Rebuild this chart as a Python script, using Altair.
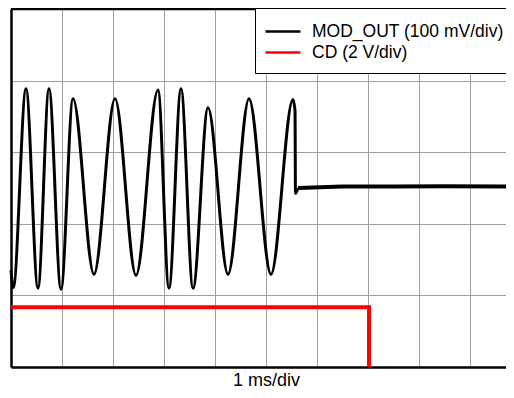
import altair as alt
import pandas as pd

# Series names
series = ["MOD_OUT (100 mV/div)", "CD (2 V/div)"]
colors = ["#000000", "#ff0000"]

# MOD_OUT trace (x in ms, y in divisions), extrema
mod_x = [0.0, 0.045, 0.294, 0.529, 0.745, 0.980, 1.216, 1.627, 2.039, 2.451,
         2.882, 3.098, 3.333, 3.569, 3.863, 4.255, 4.667, 5.098, 5.529, 5.569,
         5.578, 5.627]
mod_y = [2.70, 2.22, 7.77, 2.20, 7.77, 2.17, 7.49, 2.59, 7.49, 2.56,
         7.74, 2.20, 7.77, 2.20, 7.24, 2.59, 7.49, 2.59, 7.47, 7.16,
         4.85, 5.00]

# MOD_OUT flat (settled) part
flat_x = [5.627, 6.5, 7.5, 8.5, 9.863]
flat_y = [5.00, 5.04, 5.04, 5.05, 5.04]

# CD trace
cd_x = [0.0, 7.02, 7.02]
cd_y = [1.67, 1.67, 0.0]

# Grid tick values
x_ticks = list(range(0, 10))
y_ticks = list(range(0, 11))

mod_df = pd.DataFrame({"t": mod_x, "v": mod_y, "s": series[0], "o": range(len(mod_x))})
flat_df = pd.DataFrame({"t": flat_x, "v": flat_y, "s": series[0], "o": range(len(flat_x))})
cd_df = pd.DataFrame({"t": cd_x, "v": cd_y, "s": series[1], "o": range(len(cd_x))})

FONT = "Liberation Sans"
PX_PER_DIV = 51
PLOT_W = 495
X_MAX = PLOT_W / PX_PER_DIV

x_enc = alt.X("t:Q", scale=alt.Scale(domain=[0, X_MAX], nice=False, zero=False),
              axis=alt.Axis(values=x_ticks, labels=False, ticks=False, grid=True,
                            gridColor="#a0a0a0", gridWidth=1, domain=True,
                            domainColor="black", domainWidth=2.5,
                            title="1 ms/div", titleFont=FONT, titleFontSize=18,
                            titleFontWeight="normal", titleColor="black",
                            titleX=255, titleY=18, titleAlign="center",
                            titleBaseline="alphabetic"))
y_enc = alt.Y("v:Q", scale=alt.Scale(domain=[0, 10], nice=False, zero=False),
              axis=alt.Axis(values=y_ticks, labels=False, ticks=False, grid=True,
                            gridColor="#a0a0a0", gridWidth=1, domain=True,
                            domainColor="black", domainWidth=2.5, title=None))
color_enc = alt.Color("s:N", scale=alt.Scale(domain=series, range=colors),
                      legend=alt.Legend(orient="none", legendX=244, legendY=-1,
                                        title=None, strokeColor="black",
                                        fillColor="white", padding=12,
                                        symbolType="M-1.75,0H1.75", symbolSize=400,
                                        symbolStrokeWidth=2.5, symbolOffset=4.5,
                                        labelOffset=17.5, rowPadding=1,
                                        labelFont=FONT, labelFontSize=17.5,
                                        labelColor="black", labelLimit=400))

cd_line = alt.Chart(cd_df).mark_line(strokeWidth=4, interpolate="linear").encode(
    x=x_enc, y=y_enc, color=color_enc, order="o:Q")
mod_line = alt.Chart(mod_df).mark_line(strokeWidth=3, interpolate="monotone").encode(
    x=x_enc, y=y_enc, color=color_enc, order="o:Q")
flat_line = alt.Chart(flat_df).mark_line(strokeWidth=4, interpolate="linear").encode(
    x=x_enc, y=y_enc, color=color_enc, order="o:Q")

top_df = pd.DataFrame({"v": [10]})
top_rule = alt.Chart(top_df).mark_rule(color="black", strokeWidth=2.5).encode(
    y=alt.Y("v:Q", scale=alt.Scale(domain=[0, 10], nice=False, zero=False)))

chart = alt.layer(cd_line, mod_line, flat_line, top_rule).properties(
    width=PLOT_W, height=358,
    padding={"left": 3, "top": 1, "right": 0, "bottom": 23},
    autosize=alt.AutoSizeParams(type="none"),
).configure_view(stroke=None).configure(background="white")

chart.save("out.html", embed_options={"renderer": "svg", "actions": False})
